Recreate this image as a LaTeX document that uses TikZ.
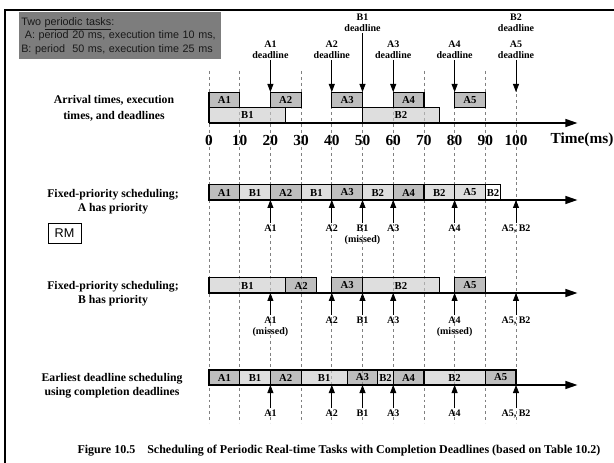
\documentclass[tikz,border=0pt]{standalone}
\usepackage{fontspec}
\setmainfont{Liberation Serif}
\newfontfamily\boxfont{Liberation Sans}
\usetikzlibrary{arrows.meta}
\definecolor{infogray}{RGB}{125,125,125}
\definecolor{agray}{RGB}{147,147,147}
\definecolor{bgray}{RGB}{200,200,200}
\tikzset{
    taskA/.style={draw, line width=0.9pt, fill=agray, fill opacity=0.6, text opacity=1,
        minimum width=#1*2.3025pt, minimum height=11.4pt, inner sep=0pt,
        font=\bfseries\fontsize{8}{8}\selectfont},
    taskB/.style={taskA=#1, fill=bgray},
    taskW/.style={taskA=#1, fill=white},
    gridline/.style={gray, line width=0.6pt, dash pattern=on 2.2pt off 2.2pt},
    timeaxis/.style={line width=0.9pt, -{Triangle[length=9pt,width=6pt]}},
    dlabel/.style={align=center, inner sep=1pt, font=\bfseries\fontsize{7.5}{8.2}\selectfont},
    dlarrow/.style={line width=0.6pt, -{Triangle[length=6pt,width=4.5pt]}},
    rowlabel/.style={align=center, font=\bfseries\fontsize{8.8}{10.5}\selectfont},
    ticklabel/.style={font=\bfseries\fontsize{11.5}{12}\selectfont}
}
\begin{document}
\begin{tikzpicture}[x=0.75pt, y=-0.75pt]
                \useasboundingbox (0,0) rectangle (614,463);
                \draw[line width=1.5pt] (614,10) -- (5,10) -- (5,463);

                \node[fill=infogray, anchor=north west, inner xsep=1.5pt, inner ysep=0pt,
                    text width=148.5pt, minimum height=35.25pt, align=left,
                    font=\boxfont\fontsize{8.1}{10.1}\selectfont, text=black!90] (tasks) at (19,12)
                    {Two \underline{periodic tasks}:\\ \ A: period 20 ms, execution time 10 ms,\\B: period \ 50 ms, execution time 25 ms};

                \node[rowlabel, font=\bfseries\fontsize{8.8}{12.5}\selectfont] (arrival) at (114,108.5) {Arrival times, execution\\times, and deadlines};
                \node[rowlabel] (fixeda) at (113,202) {Fixed-priority scheduling;\\A has priority};
                \node[draw, line width=0.6pt, minimum width=24.75pt, minimum height=15pt, inner sep=0pt,
                    font=\boxfont\fontsize{9.5}{10}\selectfont] (rm) at (64.5,233) {RM};
                \node[rowlabel] (fixedb) at (113,294) {Fixed-priority scheduling;\\B has priority};
                \node[rowlabel] (edf) at (112,386) {Earliest deadline scheduling\\using completion deadlines};
                \node[ticklabel] (timeunit) at (582,140) {Time(ms)};
                \node[font=\bfseries\fontsize{9}{9}\selectfont] (caption) at (339,451)
                    {Figure 10.5\quad Scheduling of Periodic Real-time Tasks with Completion Deadlines (based on Table 10.2)};

                \begin{scope}[xshift=156.75pt, x=2.3025pt]
                    % time grid
                    \foreach \t in {0,10,...,100} {
                        \draw[gridline] (\t,71) -- (\t,423);
                        \node[ticklabel] (tick\t) at (\t,140) {\t};
                    }

                    % arrival times, execution times, and deadlines
                    \node[taskA=10] (r0a1) at (5,100) {A1};
                    \node[taskA=10] (r0a2) at (25,100) {A2};
                    \node[taskA=10] (r0a3) at (45,100) {A3};
                    \node[taskA=10] (r0a4) at (65,100) {A4};
                    \node[taskA=10] (r0a5) at (85,100) {A5};
                    \node[taskB=25] (r0b1) at (12.5,115.2) {B1};
                    \node[taskB=25] (r0b2) at (62.5,115.2) {B2};
                    \coordinate (r0s) at (0,123);
                    \coordinate (r0e) at (120,123);
                    \draw[timeaxis] (r0s) -- (r0e);

                    \node[dlabel, anchor=south] (dla1) at (20,60) {A1\\deadline};
                    \node[dlabel, anchor=south] (dla2) at (40,60) {A2\\deadline};
                    \node[dlabel, anchor=south] (dla3) at (60,60) {A3\\deadline};
                    \node[dlabel, anchor=south] (dla4) at (80,60) {A4\\deadline};
                    \node[dlabel, anchor=south] (dla5) at (100,60) {A5\\deadline};
                    \node[dlabel, anchor=south] (dlb1) at (50,33) {B1\\deadline};
                    \node[dlabel, anchor=south] (dlb2) at (100,33) {B2\\deadline};
                    \coordinate (tip20) at (20,92);
                    \coordinate (tip40) at (40,92);
                    \coordinate (tip50) at (50,92);
                    \coordinate (tip60) at (60,92);
                    \coordinate (tip80) at (80,92);
                    \coordinate (tip100) at (100,92);
                    \draw[dlarrow] (dla1) to (tip20);
                    \draw[dlarrow] (dla2) to (tip40);
                    \draw[dlarrow] (dlb1) to (tip50);
                    \draw[dlarrow] (dla3) to (tip60);
                    \draw[dlarrow] (dla4) to (tip80);
                    \draw[dlarrow] (dla5) to (tip100);

                    % fixed priority, A first
                    \node[taskA=10] (r1a1) at (5,192.5) {A1};
                    \node[taskB=10] (r1b1) at (15,192.5) {B1};
                    \node[taskA=10] (r1a2) at (25,192.5) {A2};
                    \node[taskB=10] (r1b1x) at (35,192.5) {B1};
                    \node[taskA=10] (r1a3) at (45,192.5) {A3};
                    \node[taskB=10] (r1b2) at (55,192.5) {B2};
                    \node[taskA=10] (r1a4) at (65,192.5) {A4};
                    \node[taskB=10] (r1b2x) at (75,192.5) {B2};
                    \node[taskB=10] (r1a5) at (85,192.5) {A5};
                    \node[taskW=5] (r1b2y) at (92.5,192.5) {B2};
                    \coordinate (r1s) at (0,200);
                    \coordinate (r1e) at (120,200);
                    \draw[timeaxis] (r1s) -- (r1e);

                    \node[dlabel, anchor=north] (r1d20) at (20,223) {A1};
                    \node[dlabel, anchor=north] (r1d40) at (40,223) {A2};
                    \node[dlabel, anchor=north] (r1d50) at (50,223) {B1\\(missed)};
                    \node[dlabel, anchor=north] (r1d60) at (60,223) {A3};
                    \node[dlabel, anchor=north] (r1d80) at (80,223) {A4};
                    \node[dlabel, anchor=north] (r1d100) at (100,223) {A5, B2};
                    \draw[dlarrow] (r1d20) to (20,200);
                    \draw[dlarrow] (r1d40) to (40,200);
                    \draw[dlarrow] (r1d50) to (50,200);
                    \draw[dlarrow] (r1d60) to (60,200);
                    \draw[dlarrow] (r1d80) to (80,200);
                    \draw[dlarrow] (r1d100) to (100,200);

                    % fixed priority, B first
                    \node[taskB=25] (r2b1) at (12.5,285.5) {B1};
                    \node[taskA=10] (r2a2) at (30,285.5) {A2};
                    \node[taskA=10] (r2a3) at (45,285.5) {A3};
                    \node[taskB=25] (r2b2) at (62.5,285.5) {B2};
                    \node[taskA=10] (r2a5) at (85,285.5) {A5};
                    \coordinate (r2s) at (0,293);
                    \coordinate (r2e) at (120,293);
                    \draw[timeaxis] (r2s) -- (r2e);

                    \node[dlabel, anchor=north] (r2d20) at (20,315) {A1\\(missed)};
                    \node[dlabel, anchor=north] (r2d40) at (40,315) {A2};
                    \node[dlabel, anchor=north] (r2d50) at (50,315) {B1};
                    \node[dlabel, anchor=north] (r2d60) at (60,315) {A3};
                    \node[dlabel, anchor=north] (r2d80) at (80,315) {A4\\(missed)};
                    \node[dlabel, anchor=north] (r2d100) at (100,315) {A5, B2};
                    \draw[dlarrow] (r2d20) to (20,293);
                    \draw[dlarrow] (r2d40) to (40,293);
                    \draw[dlarrow] (r2d50) to (50,293);
                    \draw[dlarrow] (r2d60) to (60,293);
                    \draw[dlarrow] (r2d80) to (80,293);
                    \draw[dlarrow] (r2d100) to (100,293);

                    % earliest deadline
                    \node[taskA=10] (r3a1) at (5,377.5) {A1};
                    \node[taskB=10] (r3b1) at (15,377.5) {B1};
                    \node[taskA=10] (r3a2) at (25,377.5) {A2};
                    \node[taskB=15] (r3b1x) at (37.5,377.5) {B1};
                    \node[taskA=10] (r3a3) at (50,377.5) {A3};
                    \node[taskB=5] (r3b2) at (57.5,377.5) {B2};
                    \node[taskA=10] (r3a4) at (65,377.5) {A4};
                    \node[taskB=20] (r3b2x) at (80,377.5) {B2};
                    \node[taskA=10] (r3a5) at (95,377.5) {A5};
                    \coordinate (r3s) at (0,385);
                    \coordinate (r3e) at (120,385);
                    \draw[timeaxis] (r3s) -- (r3e);

                    \node[dlabel, anchor=north] (r3d20) at (20,408) {A1};
                    \node[dlabel, anchor=north] (r3d40) at (40,408) {A2};
                    \node[dlabel, anchor=north] (r3d50) at (50,408) {B1};
                    \node[dlabel, anchor=north] (r3d60) at (60,408) {A3};
                    \node[dlabel, anchor=north] (r3d80) at (80,408) {A4};
                    \node[dlabel, anchor=north] (r3d100) at (100,408) {A5, B2};
                    \draw[dlarrow] (r3d20) to (20,385);
                    \draw[dlarrow] (r3d40) to (40,385);
                    \draw[dlarrow] (r3d50) to (50,385);
                    \draw[dlarrow] (r3d60) to (60,385);
                    \draw[dlarrow] (r3d80) to (80,385);
                    \draw[dlarrow] (r3d100) to (100,385);
                \end{scope}
            \end{tikzpicture}
\end{document}
